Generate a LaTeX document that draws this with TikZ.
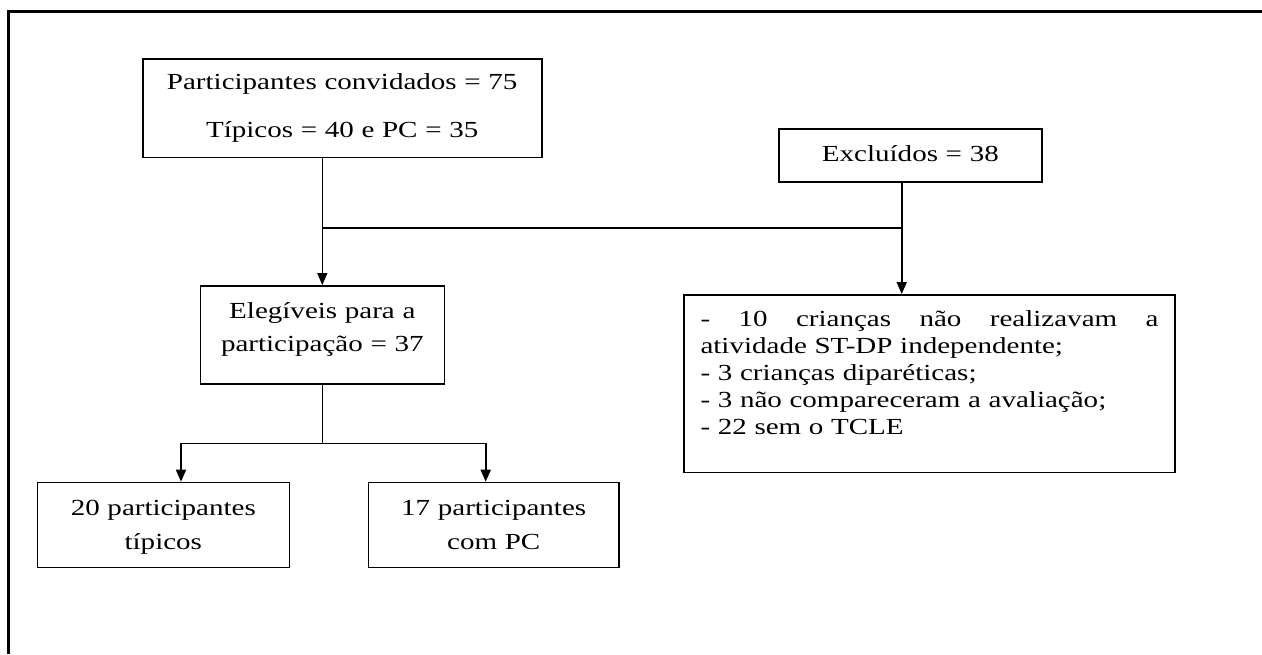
\documentclass[tikz,border=0pt]{standalone}
\usepackage{fontspec}
\setmainfont{Liberation Serif}[FakeStretch=1.262]
\usetikzlibrary{arrows.meta}
\begin{document}
\begin{tikzpicture}[x=0.5pt,y=-0.5pt,
  box/.style={draw=black, line width=0.8pt, inner sep=0pt, anchor=north, align=center},
  conn/.style={draw=black, line width=0.8pt},
  arr/.style={conn, -{Triangle[length=6pt,width=5pt]}},
  frame/.style={draw=black, line width=1.6pt}]
\useasboundingbox (0,0) rectangle (1262,654);
% outer frame (only top and left edges visible)
\draw[frame] (8.8,654) -- (8.8,11.7) -- (1262,11.7);

\node[box, text width=199.5pt, text height=15.35pt, text depth=33.85pt,
      font=\fontsize{11.5}{24}\selectfont] (inv) at (342.2,58.3)
  {Participantes convidados = 75\\Típicos = 40 e PC = 35};

\node[box, text width=131.35pt, text height=16.35pt, text depth=10pt,
      font=\fontsize{11.5}{13.4}\selectfont] (excl) at (910.35,128.3)
  {Excluídos = 38};

\node[box, text width=122pt, text height=16.15pt, text depth=33pt,
      font=\fontsize{11.5}{16.7}\selectfont] (elig) at (322.3,285)
  {Elegíveis para a\\participação = 37};

\node[box, align=left, text width=229pt, inner xsep=8.25pt, text height=16pt, text depth=72.85pt,
      font=\fontsize{11.5}{13.4}\selectfont] (list) at (929.5,294)
  {-\hfill 10\hfill crianças\hfill não\hfill realizavam\hfill a\\
   atividade ST-DP independente;\\
   - 3 crianças diparéticas;\\
   - 3 não compareceram a avaliação;\\
   - 22 sem o TCLE};

\node[box, text width=126pt, text height=16.3pt, text depth=26.2pt,
      font=\fontsize{11.5}{17}\selectfont] (typ) at (163.3,481.7)
  {20 participantes\\típicos};

\node[box, text width=125.35pt, text height=16.3pt, text depth=26.2pt,
      font=\fontsize{11.5}{17}\selectfont] (pc) at (493.7,481.7)
  {17 participantes\\com PC};

\coordinate (j1) at (322.3,227.7);
\coordinate (j2) at (901.7,227.7);
\coordinate (split) at (322.3,443.3);
\coordinate (bl) at (181,443.3);
\coordinate (br) at (485.7,443.3);

\draw[arr] (inv.south -| elig.north) -- (elig.north);
\draw[conn] (j1) -- (j2);
\draw[arr] (excl.south -| j2) -- (j2 |- list.north);
\draw[conn] (elig.south) -- (split);
\draw[arr] (split) -- (bl) -- (bl |- typ.north);
\draw[arr] (split) -- (br) -- (br |- pc.north);
\end{tikzpicture}
\end{document}
